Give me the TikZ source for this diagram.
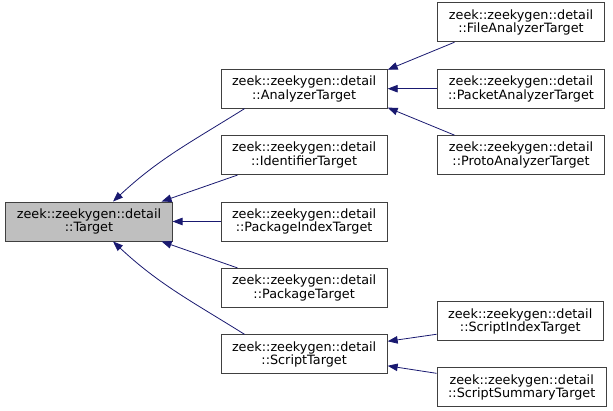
\documentclass[tikz,border=0pt]{standalone}
\usepackage{fontspec}
\setmainfont{DejaVu Sans}
\usetikzlibrary{positioning,arrows.meta}
\definecolor{edgeblue}{HTML}{191970}
\definecolor{boxline}{HTML}{404040}
\begin{document}
\begin{tikzpicture}[node distance=26.5pt]
        % styles
        \tikzset{
          cls/.style={rectangle, draw=boxline, line width=0.9pt, fill=white, align=center, minimum height=39pt, inner xsep=11pt, inner ysep=3pt, font=\fontsize{12.8pt}{13.6pt}\selectfont},
          basecls/.style={cls, fill=black!25},
          inherit/.style={draw=edgeblue, line width=0.8pt, -{Triangle[length=10pt,width=7.5pt]}}
        }
        \useasboundingbox (-89pt,221.5pt) rectangle (524pt,-189.5pt);

        % nodes
        \node (target) [basecls] {zeek::zeekygen::detail\\::Target};
        \node (pkgidx) [cls, right=48pt of target] {zeek::zeekygen::detail\\::PackageIndexTarget};
        \node (ident) [cls, above=of pkgidx] {zeek::zeekygen::detail\\::IdentifierTarget};
        \node (analyzer) [cls, above=of ident] {zeek::zeekygen::detail\\::AnalyzerTarget};
        \node (pkg) [cls, below=of pkgidx] {zeek::zeekygen::detail\\::PackageTarget};
        \node (script) [cls, below=of pkg] {zeek::zeekygen::detail\\::ScriptTarget};
        \node (packet) [cls, right=49pt of analyzer] {zeek::zeekygen::detail\\::PacketAnalyzerTarget};
        \node (file) [cls, above=of packet] {zeek::zeekygen::detail\\::FileAnalyzerTarget};
        \node (proto) [cls, below=of packet] {zeek::zeekygen::detail\\::ProtoAnalyzerTarget};
        \node (scriptidx) [cls, right=49pt of script, yshift=33pt] {zeek::zeekygen::detail\\::ScriptIndexTarget};
        \node (scriptsum) [cls, right=49pt of script, yshift=-33pt] {zeek::zeekygen::detail\\::ScriptSummaryTarget};

        % inheritance edges
        \draw [inherit] ([xshift=24pt]analyzer.south west) to[out=212, in=43] ([xshift=24pt]target.north);
        \draw [inherit] ([xshift=17pt]ident.south west) -- ([xshift=-11pt]target.north east);
        \draw [inherit] (pkgidx) -- (target);
        \draw [inherit] ([xshift=17pt]pkg.north west) -- ([xshift=-11pt]target.south east);
        \draw [inherit] ([xshift=24pt]script.north west) to[out=148, in=-43] ([xshift=24pt]target.south);

        \draw [inherit] ([xshift=17pt]file.south west) -- ([yshift=-1pt]analyzer.north east);
        \draw [inherit] (packet) -- (analyzer);
        \draw [inherit] ([xshift=17pt]proto.north west) -- ([yshift=1pt]analyzer.south east);

        \draw [inherit] ([yshift=7pt]scriptidx.south west) -- ([yshift=13pt]script.east);
        \draw [inherit] ([yshift=-6pt]scriptsum.north west) -- ([yshift=-11.5pt]script.east);
\end{tikzpicture}
\end{document}
